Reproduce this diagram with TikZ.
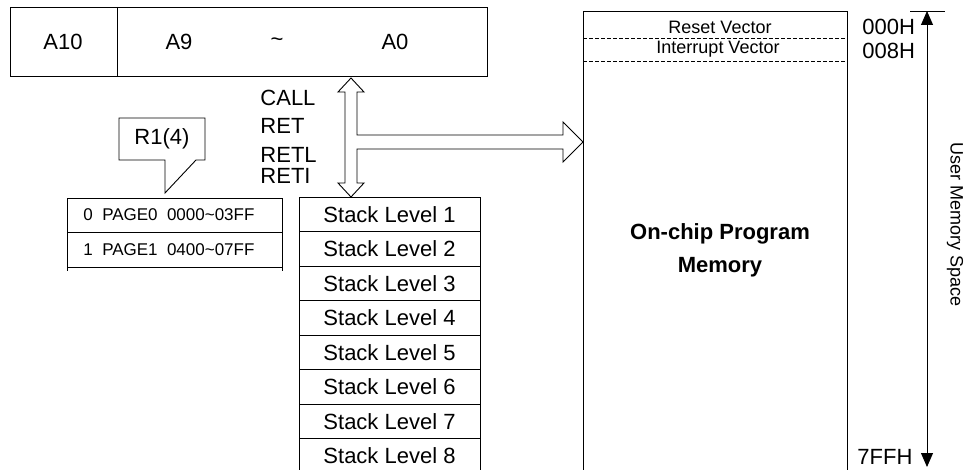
\documentclass[tikz,border=0pt]{standalone}
\usepackage{fontspec}
\setmainfont{Liberation Sans}
\usetikzlibrary{arrows.meta}
\begin{document}
\begin{tikzpicture}[x=1pt,y=-1pt, line width=0.9pt,
  big/.style={font=\fontsize{22}{24}\selectfont, inner sep=0pt},
  small/.style={font=\fontsize{18}{20}\selectfont, inner sep=0pt},
  mid/.style={font=\fontsize{17}{19}\selectfont, inner sep=0pt},
  cell/.style={draw, minimum width=181pt, minimum height=34.5pt, inner sep=0pt, font=\fontsize{22}{24}\selectfont},
  pagecell/.style={draw, minimum width=215pt, minimum height=34.5pt, inner sep=0pt, anchor=north west},
  blockarrow/.style={draw, fill=white, line width=0.9pt, line join=miter},
  spanarrow/.style={{Triangle[length=14pt,width=12pt]}-{Triangle[length=14pt,width=12pt]}}]
\path[use as bounding box] (0,0) rectangle (964,470);
\clip (0,0) rectangle (964,470);

% address register
\node[draw, minimum width=477pt, minimum height=69pt, inner sep=0pt, anchor=north west] (reg) at (10,7) {};
\draw ([xshift=107pt]reg.north west) -- ([xshift=107pt]reg.south west);
\node[big] (a10) at (63,42) {A10};
\node[big] (a9) at (179,42) {A9};
\node[big] (tl) at (277,42) {\textasciitilde};
\node[big] (a0) at (395,42) {A0};

% instruction labels
\node[big, anchor=west] (call) at (260,97.5) {CALL};
\node[big, anchor=west] (ret) at (260,125.5) {RET};
\node[big, anchor=west] (retl) at (260,154.5) {RETL};
\node[big, anchor=west] (reti) at (260,176) {RETI};

% block arrows
\draw[blockarrow] (351,78) -- (338,92) -- (345,92) -- (345,183) -- (338,183) -- (351,197)
  -- (364,183) -- (357,183) -- (357,149) -- (563,149) -- (563,162) -- (583,142)
  -- (563,122) -- (563,135) -- (357,135) -- (357,92) -- (364,92) -- cycle;

% callout
\draw (119,118) -- (205,118) -- (205,160) -- (196,160) -- (165,193) -- (165,160) -- (119,160) -- cycle;
\node[big] (r1) at (162,139) {R1(4)};

% page table
\node[pagecell] (p0) at (67,198) {};
\node[pagecell] (p1) at (67,232.5) {};
\draw (p1.south west) -- ++(0,3);
\draw (p1.south east) -- ++(0,3);
\node[mid, anchor=west] (t0) at (83,215) {0\hspace{0.55em}PAGE0\hspace{0.55em}0000\textasciitilde03FF};
\node[mid, anchor=west] (t1) at (83,249.5) {1\hspace{0.55em}PAGE1\hspace{0.55em}0400\textasciitilde07FF};

% stack
\foreach \k in {1,...,8}{
  \node[cell] (s\k) at (389.5,{214.25+34.5*(\k-1)}) {Stack Level \k};
}

% program memory
\node[draw, anchor=north west, minimum width=264pt, minimum height=480pt, inner sep=0pt] (mem) at (583,11) {};
\draw[dashed, dash pattern=on 4pt off 2pt, line width=0.8pt] (583,38) -- (847,38);
\draw[dashed, dash pattern=on 4pt off 2pt, line width=0.8pt] (583,61) -- (847,61);
\node[small] (rv) at (720,27) {Reset Vector};
\node[small] (iv) at (718,49) {Interrupt Vector};
\node[font=\fontsize{22}{33}\selectfont\bfseries, align=center, inner sep=0pt] (ocpm) at (720,250) {On-chip Program\\Memory};

% addresses
\node[big, anchor=west] (h0) at (862,27) {000H};
\node[big, anchor=west] (h8) at (862,51) {008H};
\node[big, anchor=west] (hf) at (857,457) {7FFH};

% user memory space arrow
\coordinate (ut) at (927,11);
\coordinate (ub) at (927,467);
\draw[spanarrow] (ut) -- (ub);
\draw (910,11) -- (945,11);
\node[small, rotate=-90] (ums) at (955,225) {User Memory Space};
\end{tikzpicture}
\end{document}
